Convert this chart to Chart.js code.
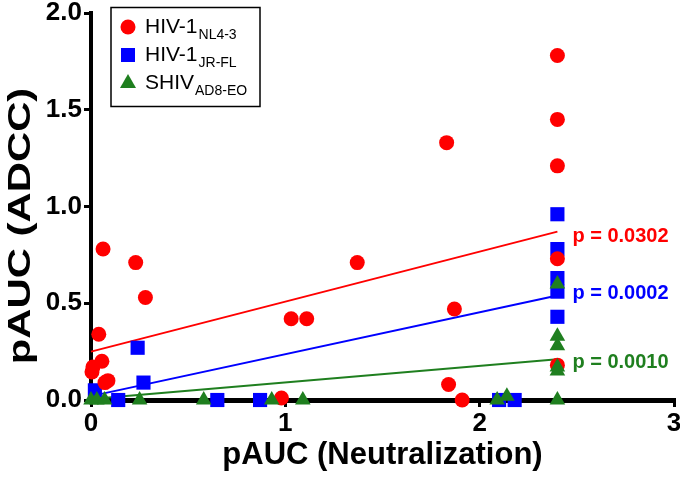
<!DOCTYPE html>
<html><head><meta charset="utf-8">
<script src="https://cdn.jsdelivr.net/npm/chart.js@4/dist/chart.umd.min.js"></script>
<style>html,body{margin:0;padding:0;background:#fff;overflow:hidden;width:680px;height:477px}canvas{display:block}</style>
</head><body>
<canvas id="c" width="684" height="477" style="width:684px;height:477px"></canvas>
<script>
// ---- data ----
const nl43X = [0.04, 0.01, 0.056, 0.087, 0.072, 0.005, 0.062, 0.23, 0.28, 1.03, 1.11, 1.37, 1.83, 1.87, 1.84, 1.91, 0.98, 2.4, 2.4, 2.4, 2.4, 2.4];
const nl43Y = [0.34, 0.17, 0.20, 0.10, 0.09, 0.145, 0.78, 0.71, 0.53, 0.42, 0.42, 0.71, 1.33, 0.47, 0.08, 0.0, 0.01, 1.78, 1.45, 1.21, 0.73, 0.18];
const jrflX = [0.02, 0.24, 0.27, 0.14, 0.65, 0.87, 2.1, 2.18, 2.4, 2.4, 2.4, 2.4, 2.4];
const jrflY = [0.05, 0.27, 0.09, 0.0, 0.0, 0.0, 0.0, 0.0, 0.96, 0.78, 0.63, 0.56, 0.43];
const ad8X = [0.0, 0.03, 0.07, 0.25, 0.58, 0.93, 1.09, 2.09, 2.14, 2.4, 2.4, 2.4, 2.4, 2.4, 2.4];
const ad8Y = [0, 0, 0, 0, 0, 0, 0, 0, 0.02, 0.6, 0.33, 0.28, 0.17, 0.15, 0];
const fitX = [0, 2.4];
const nl43Fit = [0.25, 0.87];
const jrflFit = [0.02, 0.54];
const ad8Fit = [0.005, 0.21];
const seriesNames = ['NL4-3', 'JR-FL', 'AD8-EO'];
const seriesPrefix = ['HIV-1', 'HIV-1', 'SHIV'];
const pLabels = ['p = 0.0302', 'p = 0.0002', 'p = 0.0010'];
const yTicks = [0, 0.5, 1.0, 1.5, 2.0];
const xTicks = [0, 1, 2, 3];
const xTitle = 'pAUC (Neutralization)';
const yTitle = 'pAUC (ADCC)';

const RED = '#ff0000', BLUE = '#0000ff', GREEN = '#1f7f1f';
const FAM = '"Liberation Sans", Arial, Helvetica, sans-serif';
const pts = (xs, ys) => xs.map((x, i) => ({x, y: ys[i]}));

const legendPlugin = {
  id: 'customDecor',
  afterDraw(chart) {
    const ctx = chart.ctx;
    const xs = chart.scales.x, ys = chart.scales.y;
    // y-axis title (stretched like the reference)
    ctx.save();
    ctx.translate(21, 226);
    ctx.rotate(-Math.PI / 2);
    ctx.scale(1.35, 1);
    ctx.font = 'bold 31px ' + FAM;
    ctx.fillStyle = '#000';
    ctx.textAlign = 'center';
    ctx.textBaseline = 'middle';
    ctx.fillText(yTitle, 0, 0);
    ctx.restore();

    // p-value labels next to the regression line ends
    const fits = [nl43Fit, jrflFit, ad8Fit];
    const cols = [RED, BLUE, GREEN];
    const offs = [5, -2, 3];
    ctx.save();
    ctx.font = 'bold 20px ' + FAM;
    ctx.textAlign = 'left';
    ctx.textBaseline = 'middle';
    fits.forEach((f, i) => {
      ctx.fillStyle = cols[i];
      ctx.fillText(pLabels[i], xs.getPixelForValue(fitX[1]) + 15, ys.getPixelForValue(f[1]) + offs[i]);
    });
    ctx.restore();

    // legend box
    ctx.save();
    ctx.strokeStyle = '#000';
    ctx.lineWidth = 1.5;
    ctx.strokeRect(111, 7.5, 149, 99);
    const rows = [33, 61, 89];
    const markers = ['circle', 'rect', 'triangle'];
    rows.forEach((by, i) => {
      const cx = 128, cy = by - 6;
      ctx.fillStyle = cols[i];
      ctx.beginPath();
      if (markers[i] === 'circle') { ctx.arc(cx, cy, 7.5, 0, Math.PI * 2); }
      else if (markers[i] === 'rect') { ctx.rect(cx - 7, cy - 7, 14, 14); }
      else { ctx.moveTo(cx, cy - 9); ctx.lineTo(cx + 8, cy + 5); ctx.lineTo(cx - 8, cy + 5); ctx.closePath(); }
      ctx.fill();
      ctx.fillStyle = '#000';
      ctx.textAlign = 'left';
      ctx.textBaseline = 'alphabetic';
      ctx.font = '21px ' + FAM;
      ctx.fillText(seriesPrefix[i], 145, by);
      const w = ctx.measureText(seriesPrefix[i]).width;
      ctx.font = '14px ' + FAM;
      ctx.fillText(seriesNames[i], 145 + w + 1, by + 6);
    });
    ctx.restore();
  }
};

new Chart(document.getElementById('c'), {
  type: 'scatter',
  data: {
    datasets: [
      { label: 'SHIV AD8-EO', data: pts(ad8X, ad8Y), pointStyle: 'triangle', pointRadius: 9, pointHoverRadius: 9,
        backgroundColor: GREEN, borderColor: GREEN, borderWidth: 0, order: 1, clip: false },
      { label: 'HIV-1 NL4-3', data: pts(nl43X, nl43Y), pointStyle: 'circle', pointRadius: 7.5, pointHoverRadius: 7.5,
        backgroundColor: RED, borderColor: RED, borderWidth: 0, order: 2, clip: false },
      { label: 'HIV-1 JR-FL', data: pts(jrflX, jrflY), pointStyle: 'rect', pointRadius: 10, pointHoverRadius: 10,
        backgroundColor: BLUE, borderColor: BLUE, borderWidth: 0, order: 3, clip: false },
      { label: 'fit NL4-3', data: pts(fitX, nl43Fit), showLine: true, pointRadius: 0, borderColor: RED, borderWidth: 2, order: 4, clip: false },
      { label: 'fit JR-FL', data: pts(fitX, jrflFit), showLine: true, pointRadius: 0, borderColor: BLUE, borderWidth: 2, order: 4, clip: false },
      { label: 'fit AD8-EO', data: pts(fitX, ad8Fit), showLine: true, pointRadius: 0, borderColor: GREEN, borderWidth: 2, order: 4, clip: false }
    ]
  },
  options: {
    responsive: false,
    animation: false,
    events: [],
    layout: { padding: { top: 13, right: 8, left: 0, bottom: 0 } },
    plugins: { legend: { display: false }, tooltip: { enabled: false } },
    scales: {
      x: {
        type: 'linear', min: 0, max: 3,
        afterBuildTicks: s => { s.ticks = xTicks.map(v => ({value: v})); },
        afterFit: s => { s.height = 77; s.paddingLeft = 0; s.paddingRight = 0; },
        border: { display: true, color: '#000', width: 5 },
        grid: { drawOnChartArea: false, drawTicks: true, tickLength: 7, color: '#000', lineWidth: 3 },
        ticks: { color: '#000', padding: 4, maxRotation: 0, font: { family: FAM, size: 26, weight: 'bold', lineHeight: 1 },
          callback: v => String(v) },
        title: { display: true, text: xTitle, color: '#000', padding: { top: 0, bottom: 3 },
          font: { family: FAM, size: 31, weight: 'bold' } }
      },
      y: {
        type: 'linear', min: 0, max: 2,
        afterBuildTicks: s => { s.ticks = yTicks.map(v => ({value: v})); },
        afterFit: s => { s.width = 91; s.paddingTop = 0; s.paddingBottom = 0; },
        border: { display: true, color: '#000', width: 4 },
        grid: { drawOnChartArea: false, drawTicks: true, tickLength: 7, color: '#000', lineWidth: 3 },
        ticks: { color: '#000', padding: 2, font: { family: FAM, size: 26, weight: 'bold', lineHeight: 1 },
          callback: v => Number(v).toFixed(1) },
        title: { display: false }
      }
    }
  },
  plugins: [legendPlugin]
});
</script>
</body></html>
